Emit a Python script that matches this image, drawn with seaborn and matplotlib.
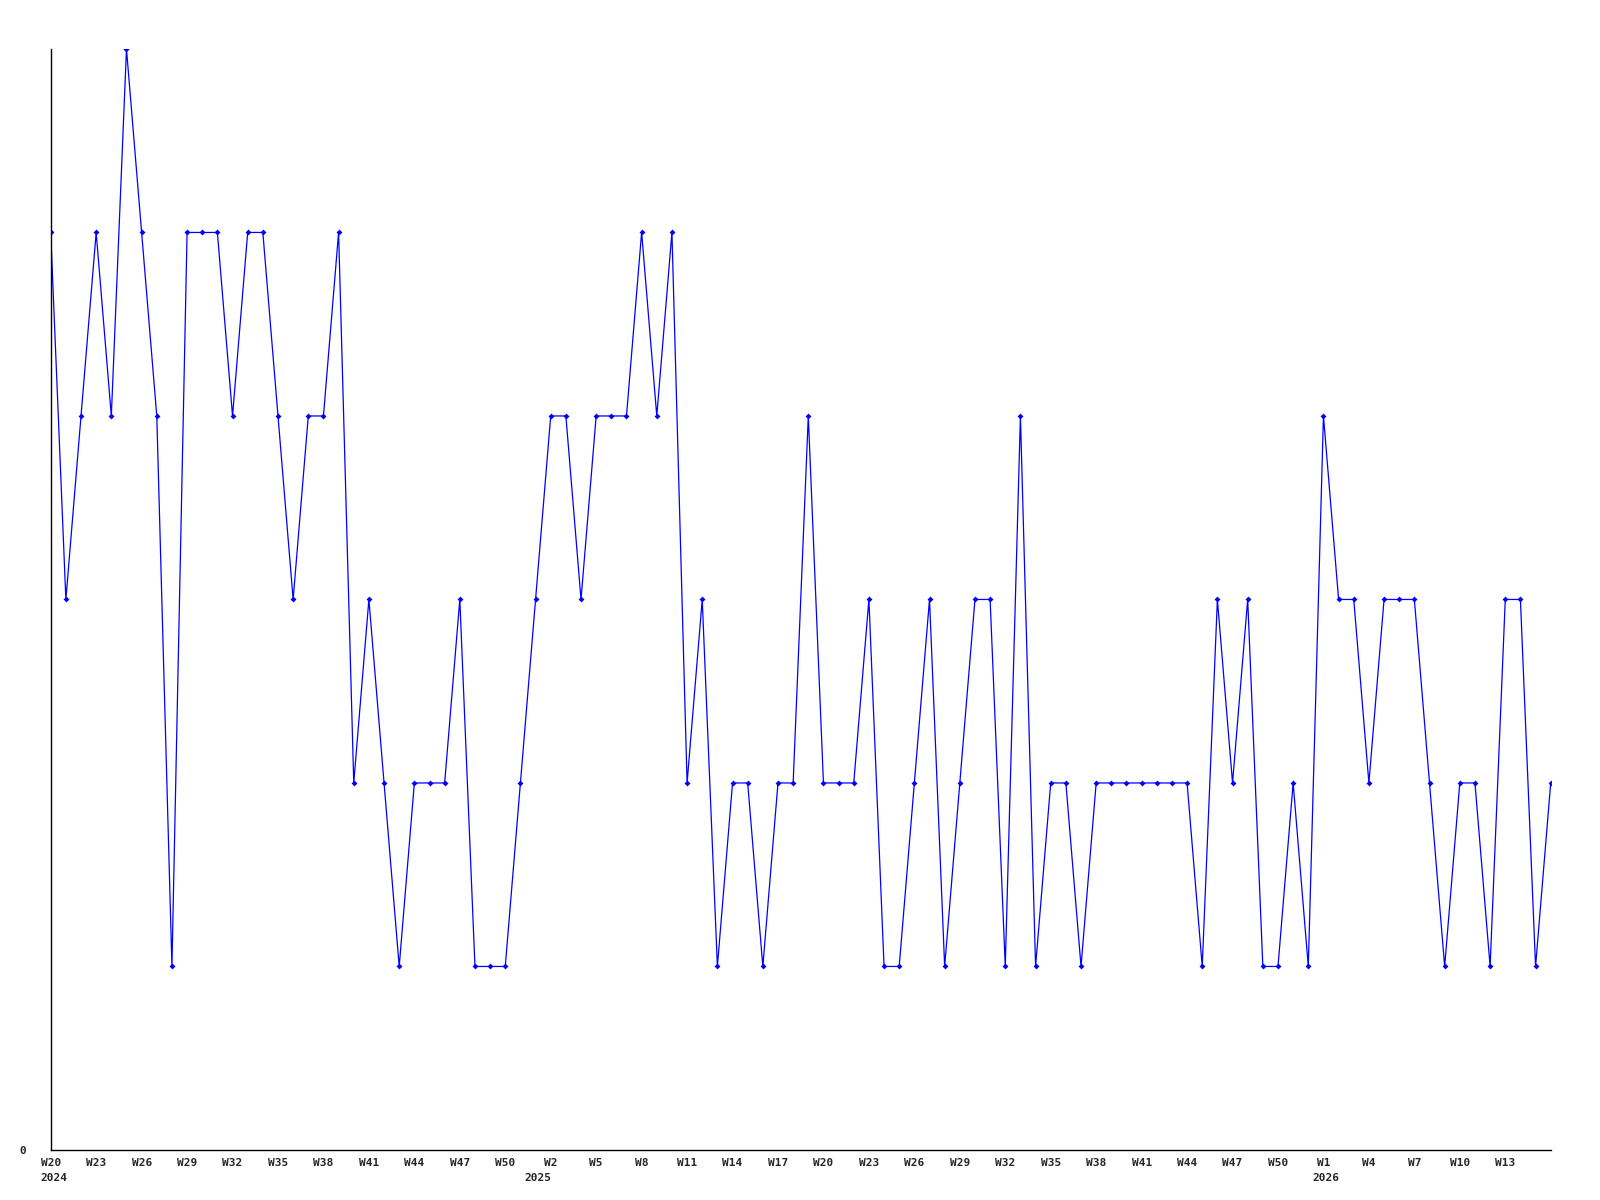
import numpy as np
import pandas as pd
import matplotlib
matplotlib.use('Agg')
import matplotlib.pyplot as plt
import seaborn as sns

# weekly counts, W20 2024 .. W16 2026
counts = [5, 3, 4, 5, 4, 6, 5, 4, 1, 5,
          5, 5, 4, 5, 5, 4, 3, 4, 4, 5,
          2, 3, 2, 1, 2, 2, 2, 3, 1, 1,
          1, 2, 3, 4, 4, 3, 4, 4, 4, 5,
          4, 5, 2, 3, 1, 2, 2, 1, 2, 2,
          4, 2, 2, 2, 3, 1, 1, 2, 3, 1,
          2, 3, 3, 1, 4, 1, 2, 2, 1, 2,
          2, 2, 2, 2, 2, 2, 1, 3, 2, 3,
          1, 1, 2, 1, 4, 3, 3, 2, 3, 3,
          3, 2, 1, 2, 2, 1, 3, 3, 1, 2]

# every third week is labelled
week_labels = ["W20", "W23", "W26", "W29", "W32", "W35", "W38", "W41", "W44", "W47", "W50",
               "W2", "W5", "W8", "W11", "W14", "W17", "W20", "W23", "W26", "W29", "W32",
               "W35", "W38", "W41", "W44", "W47", "W50",
               "W1", "W4", "W7", "W10", "W13"]
years = ["2024", "2025", "2026"]
label_step = 3
year_shift = [-7.4, -19.2, -7.9]  # points, left edge of year text vs. tick

df = pd.DataFrame({'idx': np.arange(len(counts)), 'count': counts})

sns.set_style('white')
plt.rcParams['font.family'] = ['DejaVu Sans Mono']

fig = plt.figure(figsize=(16, 12), dpi=100)
ax = fig.add_axes([0.0317, 0.0417, 0.9375, 0.9175])

sns.lineplot(data=df, x='idx', y='count', ax=ax, color='#0000ff', linewidth=0.9,
             marker='D', markersize=3, markeredgewidth=0, estimator=None)

ax.set_xlim(0, len(counts) - 1)
ax.set_ylim(0, 6)

tick_pos = np.arange(len(week_labels)) * label_step
ax.set_xticks(tick_pos)
ax.set_xticklabels(week_labels, fontsize=8, fontweight='bold')
ax.set_yticks([0])
ax.set_yticklabels(['0'], fontsize=8, fontweight='bold')
ax.tick_params(axis='x', length=0, pad=6)
ax.tick_params(axis='y', length=0, pad=18)
ax.set_xlabel('')
ax.set_ylabel('')

# year under the first week label of each year
weeknums = [int(w[1:]) for w in week_labels]
y_i = 0
for k, pos in enumerate(tick_pos):
    if k == 0 or weeknums[k] < weeknums[k - 1]:
        ax.annotate(years[y_i], xy=(pos, 0), xycoords=('data', 'axes fraction'),
                    xytext=(year_shift[y_i], -16.3), textcoords='offset points',
                    ha='left', va='top', fontsize=8, fontweight='bold')
        y_i += 1

for s in ['top', 'right']:
    ax.spines[s].set_visible(False)
for s in ['left', 'bottom']:
    ax.spines[s].set_color('black')
    ax.spines[s].set_linewidth(1)

fig.savefig('out.png', dpi=100)
